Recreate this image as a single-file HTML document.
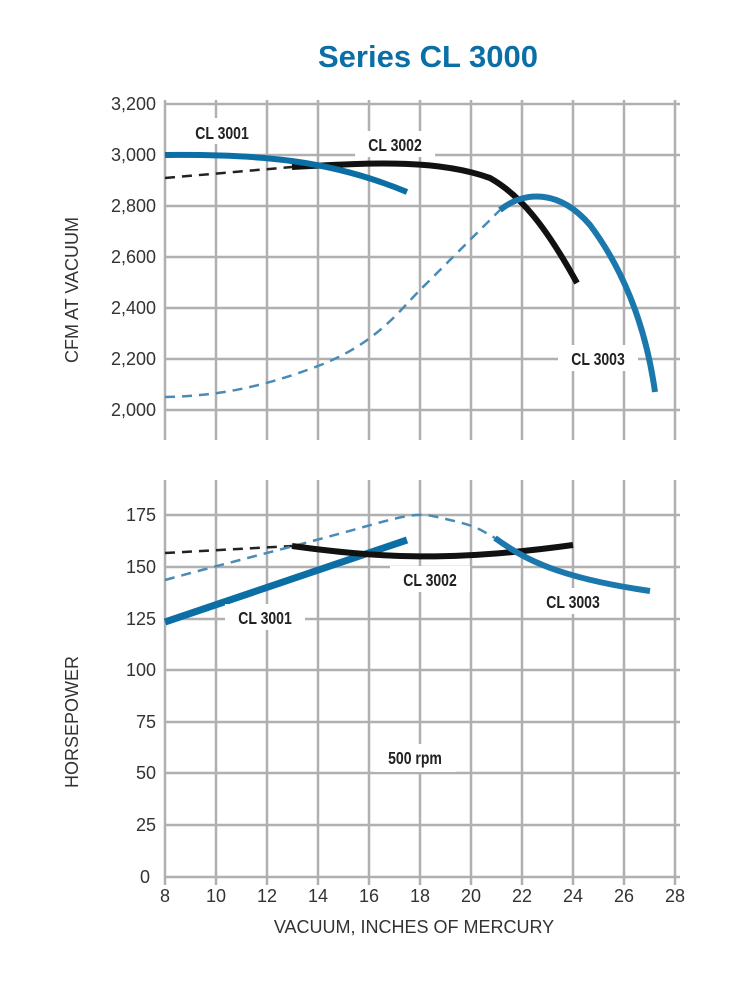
<!DOCTYPE html>
<html><head><meta charset="utf-8"><style>body{margin:0;background:#fff}</style></head><body>
<svg width="733" height="1000" viewBox="0 0 733 1000" xmlns="http://www.w3.org/2000/svg" font-family="Liberation Sans, sans-serif">
<rect width="733" height="1000" fill="#fff"/>
<text x="428" y="67" text-anchor="middle" font-size="31" font-weight="bold" fill="#0b6fa6">Series CL 3000</text>
<g stroke="#b0b0b0" stroke-width="2.5">
<line x1="165" y1="104" x2="680" y2="104"/><line x1="165" y1="155" x2="680" y2="155"/><line x1="165" y1="206" x2="680" y2="206"/><line x1="165" y1="257" x2="680" y2="257"/><line x1="165" y1="308" x2="680" y2="308"/><line x1="165" y1="359" x2="680" y2="359"/><line x1="165" y1="410" x2="680" y2="410"/>
<line x1="165" y1="100" x2="165" y2="440"/><line x1="216" y1="100" x2="216" y2="440"/><line x1="267" y1="100" x2="267" y2="440"/><line x1="318" y1="100" x2="318" y2="440"/><line x1="369" y1="100" x2="369" y2="440"/><line x1="420" y1="100" x2="420" y2="440"/><line x1="471" y1="100" x2="471" y2="440"/><line x1="522" y1="100" x2="522" y2="440"/><line x1="573" y1="100" x2="573" y2="440"/><line x1="624" y1="100" x2="624" y2="440"/><line x1="675" y1="100" x2="675" y2="440"/>
<line x1="165" y1="515" x2="680" y2="515"/><line x1="165" y1="567" x2="680" y2="567"/><line x1="165" y1="619" x2="680" y2="619"/><line x1="165" y1="670" x2="680" y2="670"/><line x1="165" y1="722" x2="680" y2="722"/><line x1="165" y1="773" x2="680" y2="773"/><line x1="165" y1="825" x2="680" y2="825"/><line x1="165" y1="877" x2="680" y2="877"/>
<line x1="165" y1="480" x2="165" y2="885"/><line x1="216" y1="480" x2="216" y2="885"/><line x1="267" y1="480" x2="267" y2="885"/><line x1="318" y1="480" x2="318" y2="885"/><line x1="369" y1="480" x2="369" y2="885"/><line x1="420" y1="480" x2="420" y2="885"/><line x1="471" y1="480" x2="471" y2="885"/><line x1="522" y1="480" x2="522" y2="885"/><line x1="573" y1="480" x2="573" y2="885"/><line x1="624" y1="480" x2="624" y2="885"/><line x1="675" y1="480" x2="675" y2="885"/>
</g>
<g font-size="18" fill="#333" text-anchor="end">
<text x="156" y="110">3,200</text><text x="156" y="161">3,000</text><text x="156" y="212">2,800</text><text x="156" y="263">2,600</text><text x="156" y="314">2,400</text><text x="156" y="365">2,200</text><text x="156" y="416">2,000</text>
<text x="156" y="521">175</text><text x="156" y="573">150</text><text x="156" y="625">125</text><text x="156" y="676">100</text><text x="156" y="728">75</text><text x="156" y="779">50</text><text x="156" y="831">25</text><text x="150" y="883">0</text>
</g>
<g font-size="18" fill="#333" text-anchor="middle">
<text x="165" y="902">8</text><text x="216" y="902">10</text><text x="267" y="902">12</text><text x="318" y="902">14</text><text x="369" y="902">16</text><text x="420" y="902">18</text><text x="471" y="902">20</text><text x="522" y="902">22</text><text x="573" y="902">24</text><text x="624" y="902">26</text><text x="675" y="902">28</text>
<text x="414" y="933">VACUUM, INCHES OF MERCURY</text>
<text transform="translate(78,290) rotate(-90)">CFM AT VACUUM</text>
<text transform="translate(78,722) rotate(-90)">HORSEPOWER</text>
</g>
<g fill="none">
<path d="M165,178 L292,167" stroke="#222" stroke-width="2.5" stroke-dasharray="10,7"/>
<path d="M165,397 C216,396 260,388 318,366 S400,310 420,290 S470,240 500,210" stroke="#4a8bb5" stroke-width="2.5" stroke-dasharray="10,7"/>
<path d="M292,167 C380,162 440,160 490,178 C520,195 545,225 577,283" stroke="#111" stroke-width="6"/>
<path d="M165,155 C260,154 330,160 407,192" stroke="#0b6fa6" stroke-width="6"/>
<path d="M500,210 C525,190 560,190 590,225 C620,265 645,320 655,392" stroke="#1a78ad" stroke-width="6"/>
<path d="M165,553 L292,546" stroke="#222" stroke-width="2.5" stroke-dasharray="10,7"/>
<path d="M165,580 C230,562 300,545 360,528 S420,513 450,520 S480,530 495,538" stroke="#4a8bb5" stroke-width="2.5" stroke-dasharray="10,7"/>
<path d="M165,622 L407,540" stroke="#0b6fa6" stroke-width="7"/>
<path d="M292,546 C380,558 450,562 573,545" stroke="#111" stroke-width="6"/>
<path d="M495,538 C525,560 560,578 650,591" stroke="#1a78ad" stroke-width="6"/>
</g>
<g font-size="18" font-weight="bold" fill="#222" text-anchor="middle">
<rect x="182" y="118" width="80" height="26" fill="#fff"/><text transform="translate(222,139) scale(0.78,1)">CL 3001</text>
<rect x="355" y="131" width="80" height="26" fill="#fff"/><text transform="translate(395,151) scale(0.78,1)">CL 3002</text>
<rect x="558" y="345" width="80" height="26" fill="#fff"/><text transform="translate(598,365) scale(0.78,1)">CL 3003</text>
<rect x="225" y="604" width="80" height="26" fill="#fff"/><text transform="translate(265,624) scale(0.78,1)">CL 3001</text>
<rect x="390" y="566" width="80" height="26" fill="#fff"/><text transform="translate(430,586) scale(0.78,1)">CL 3002</text>
<rect x="533" y="588" width="80" height="26" fill="#fff"/><text transform="translate(573,608) scale(0.78,1)">CL 3003</text>
<rect x="374" y="744" width="82" height="28" fill="#fff"/><text transform="translate(415,764) scale(0.78,1)">500 rpm</text>
</g>
</svg>
</body></html>
